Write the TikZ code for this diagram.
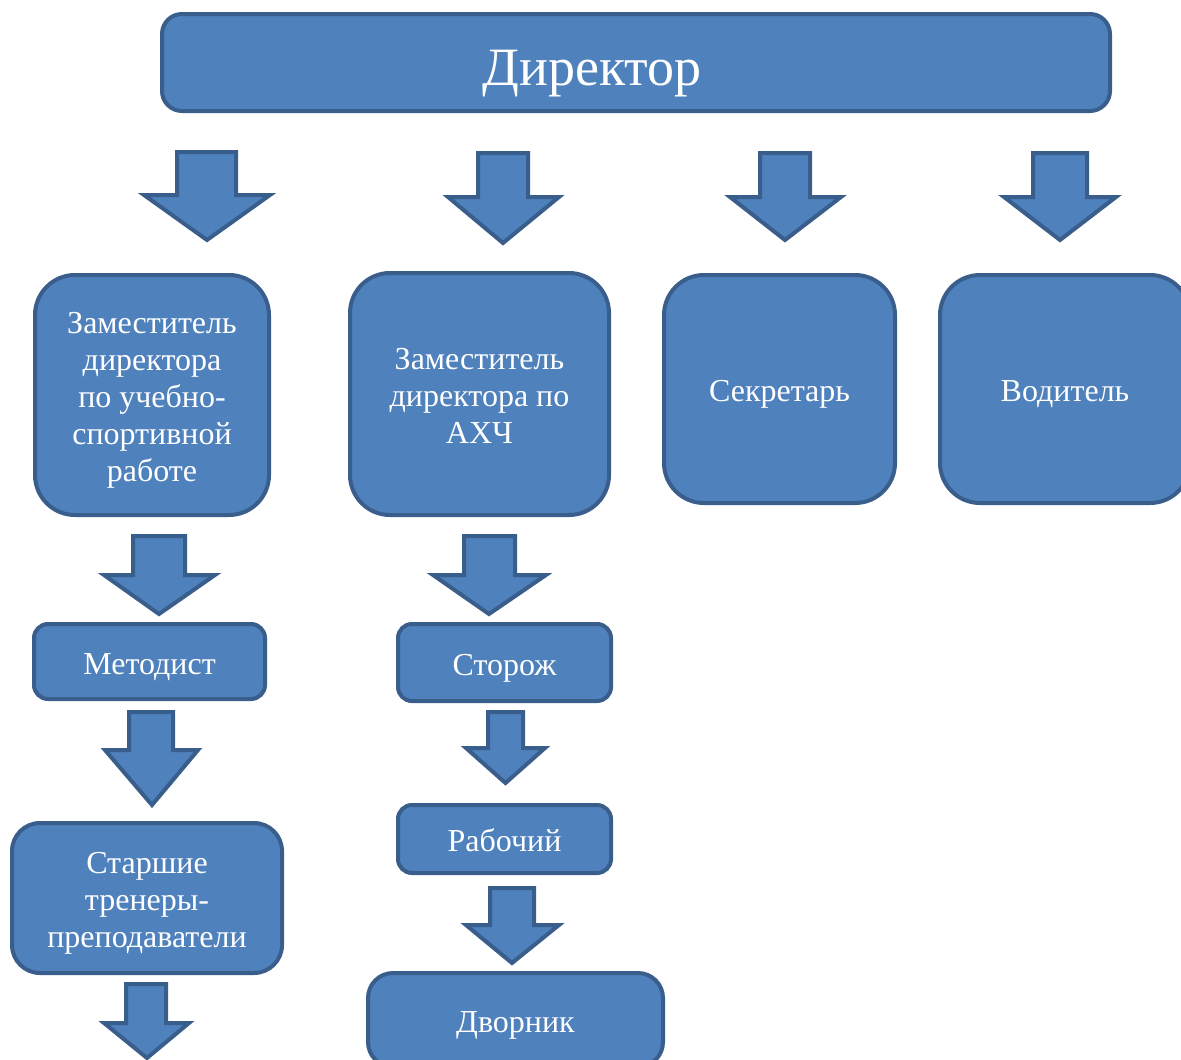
\documentclass[tikz,border=0pt]{standalone}
\usepackage{fontspec}
\setmainfont{Liberation Serif}
\definecolor{boxfill}{HTML}{4F81BD}
\definecolor{boxline}{HTML}{3A5E8C}
\newcommand\blockdown[8]{% leftwing, shaftleft, shaftright, rightwing, top, wingy, tipy, tipx
  \draw[blk] (#2,#5) -- (#3,#5) -- (#3,#6) -- (#4,#6) -- (#8,#7) -- (#1,#6) -- (#2,#6) -- cycle;}
\begin{document}
\begin{tikzpicture}[x=1pt,y=-1pt,
  every node/.style={inner sep=0pt, outer sep=0pt},
  orgbox/.style={draw=boxline, fill=boxfill, line width=4pt, align=center, text=white,
     font=\fontsize{32}{37}\selectfont, text height=28pt, text depth=3pt},
  lines/.style={text height=37*(#1-1)+28},
  blk/.style={draw=boxline, fill=boxfill, line width=4pt, line join=miter}]
\useasboundingbox (0,0) rectangle (1181,1060);
\clip (0,0) rectangle (1181,1060);
% director
\node[orgbox, minimum width=948pt, minimum height=97pt, rounded corners=20pt] (dir) at (636,62.5) {};
\node[text=white, font=\fontsize{54}{60}\selectfont, anchor=base] (dirlabel) at (592,85) {Директор};
% arrows from director
\blockdown{144}{177}{236}{270}{152}{195}{240}{207}
\blockdown{448}{478}{528}{559}{153}{197}{243}{503}
\blockdown{730}{760}{810}{841}{153}{197}{240}{785}
\blockdown{1004}{1033}{1087}{1116}{153}{197}{240}{1060}
% second row
\node[orgbox, lines=5, minimum width=234pt, minimum height=240pt, rounded corners=40pt] (zam1) at (152,395)
  {Заместитель\\директора\\по учебно-\\спортивной\\работе};
\node[orgbox, lines=3, minimum width=259pt, minimum height=242pt, rounded corners=40pt] (zam2) at (479.5,394)
  {Заместитель\\директора по\\АХЧ};
\node[orgbox, minimum width=231pt, minimum height=228pt, rounded corners=40pt] (sekr) at (779.5,389)
  {Секретарь};
\node[orgbox, minimum width=250pt, minimum height=228pt, rounded corners=40pt] (vod) at (1065,389)
  {Водитель};
% left column
\blockdown{104}{133}{185}{215}{536}{575}{614}{159}
\node[orgbox, minimum width=231pt, minimum height=75pt, rounded corners=14pt] (met) at (149.5,661.5)
  {Методист};
\blockdown{105}{129}{173}{198}{712}{750}{805}{152}
\node[orgbox, lines=3, minimum width=270pt, minimum height=150pt, rounded corners=28pt] (tren) at (147,898)
  {Старшие\\тренеры-\\преподаватели};
\blockdown{104}{126}{166}{189}{984}{1023}{1058}{147}
% middle column
\blockdown{433}{464}{515}{546}{536}{575}{614}{489}
\node[orgbox, minimum width=213pt, minimum height=77pt, rounded corners=14pt] (stor) at (504.5,662.5)
  {Сторож};
\blockdown{466}{488}{523}{545}{712}{748}{783}{505.5}
\node[orgbox, minimum width=213pt, minimum height=68pt, rounded corners=14pt] (rab) at (504.5,839)
  {Рабочий};
\blockdown{466}{490}{534}{559}{888}{925}{963}{512}
\node[orgbox, minimum width=295pt, minimum height=94pt, rounded corners=25pt] (dvor) at (515.5,1020)
  {Дворник};
\end{tikzpicture}
\end{document}
